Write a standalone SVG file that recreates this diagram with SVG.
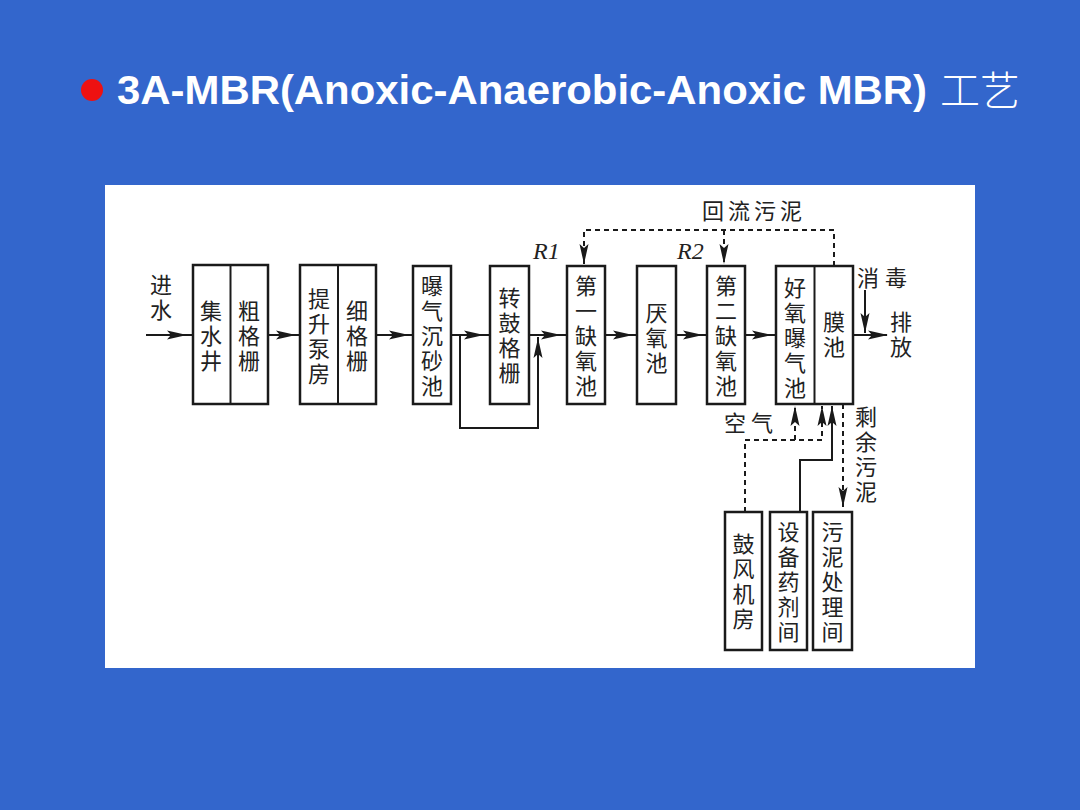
<svg xmlns="http://www.w3.org/2000/svg" width="1080" height="810" viewBox="0 0 1080 810">
<style>
.box{fill:#fff;stroke:#1a1a1a;stroke-width:2.5}
.cn{font-family:"Noto Sans CJK SC","Noto Sans CJK JP",sans-serif;font-size:22px;fill:#222;text-anchor:middle}
.v{writing-mode:vertical-rl;text-anchor:middle;letter-spacing:3px}
.ln{fill:none;stroke:#1a1a1a;stroke-width:2}
.ds{fill:none;stroke:#1a1a1a;stroke-width:2;stroke-dasharray:5 4}
.rl{font-family:"Liberation Serif",serif;font-style:italic;font-size:24px;fill:#222}
</style>
<defs>
<path id="ah" d="M0,0 L-20,-4.5 L-16,0 L-20,4.5 Z" fill="#1a1a1a"/>
</defs>
<rect width="1080" height="810" fill="#3366CC"/>
<rect x="105" y="185" width="870" height="483" fill="#fff"/>
<g id="title">
<circle cx="92" cy="90" r="11" fill="#ee1111"/>
<text x="117" y="104" font-family="Liberation Sans, Arial, sans-serif" font-weight="bold" font-size="40" fill="#fff" textLength="810" lengthAdjust="spacingAndGlyphs">3A-MBR(Anoxic-Anaerobic-Anoxic MBR)</text>
<text x="940" y="105" font-family="Noto Sans CJK SC, sans-serif" font-weight="300" font-size="40" fill="#fff">工艺</text>
</g>
<g id="connectors">
<path class="ln" d="M146,335 H193"/>
<path class="ln" d="M268,335 H300"/>
<path class="ln" d="M376,335 H413"/>
<path class="ln" d="M451,335 H490"/>
<path class="ln" d="M529,335 H567"/>
<path class="ln" d="M460,335 V428 H538 V337"/>
<path class="ln" d="M605,335 H637"/>
<path class="ln" d="M676,335 H707"/>
<path class="ln" d="M745,335 H776"/>
<path class="ln" d="M853,335 H887"/>
<path class="ln" d="M865,290 V333"/>
<path class="ds" d="M834,266 V230 H584 V266"/>
<path class="ds" d="M724,230 V266"/>
<path class="ds" d="M745,512 V440 H822 V406"/>
<path class="ds" d="M795,440 V406"/>
<path class="ln" d="M800,512 V460 H832 V406"/>
<path class="ds" d="M843,404 V507"/>
<use href="#ah" transform="translate(187,335)"/>
<use href="#ah" transform="translate(296,335)"/>
<use href="#ah" transform="translate(409,335)"/>
<use href="#ah" transform="translate(484,335)"/>
<use href="#ah" transform="translate(561,335)"/>
<use href="#ah" transform="translate(538,338) rotate(-90)"/>
<use href="#ah" transform="translate(633,335)"/>
<use href="#ah" transform="translate(703,335)"/>
<use href="#ah" transform="translate(772,335)"/>
<use href="#ah" transform="translate(888,335)"/>
<use href="#ah" transform="translate(865,333) rotate(90)"/>
<use href="#ah" transform="translate(584,264) rotate(90)"/>
<use href="#ah" transform="translate(724,264) rotate(90)"/>
<use href="#ah" transform="translate(795,406) rotate(-90)"/>
<use href="#ah" transform="translate(822,406) rotate(-90)"/>
<use href="#ah" transform="translate(832,406) rotate(-90)"/>
<use href="#ah" transform="translate(843,507) rotate(90)"/>
</g>
<g id="labels">
<text class="cn v" x="161" y="299">进水</text>
<text class="cn" x="754" y="219" letter-spacing="4">回流污泥</text>
<text class="rl" x="533" y="259">R1</text>
<text class="rl" x="677" y="259">R2</text>
<text class="cn" x="885" y="286" letter-spacing="6">消毒</text>
<text class="cn v" x="901" y="336">排放</text>
<text class="cn" x="751" y="431" letter-spacing="5">空气</text>
<text class="cn v" x="866" y="456">剩余污泥</text>
</g>
<g id="n-jishuijing">
<rect class="box" x="193" y="265" width="75" height="139"/>
<path class="ln" d="M230.5,265 V404"/>
<text class="cn v" x="211" y="337">集水井</text>
<text class="cn v" x="249" y="337">粗格栅</text>
</g>
<g id="n-tisheng">
<rect class="box" x="300" y="265" width="76" height="139"/>
<path class="ln" d="M338,265 V404"/>
<text class="cn v" x="319" y="338">提升泵房</text>
<text class="cn v" x="357" y="337">细格栅</text>
</g>
<g id="n-chensha">
<rect class="box" x="413" y="266" width="38" height="138"/>
<text class="cn v" x="432" y="337">曝气沉砂池</text>
</g>
<g id="n-zhuangu">
<rect class="box" x="490" y="266" width="39" height="138"/>
<text class="cn v" x="509.5" y="337">转鼓格栅</text>
</g>
<g id="n-queyang1">
<rect class="box" x="567" y="266" width="38" height="138"/>
<text class="cn v" x="586" y="337">第一缺氧池</text>
</g>
<g id="n-yanyang">
<rect class="box" x="637" y="266" width="39" height="138"/>
<text class="cn v" x="656.5" y="339">厌氧池</text>
</g>
<g id="n-queyang2">
<rect class="box" x="707" y="266" width="38" height="138"/>
<text class="cn v" x="726" y="337">第二缺氧池</text>
</g>
<g id="n-haoyang">
<rect class="box" x="776" y="266" width="77" height="138"/>
<path class="ln" d="M814.5,266 V404"/>
<text class="cn v" x="795" y="339">好氧曝气池</text>
<text class="cn v" x="834" y="336">膜池</text>
</g>
<g id="n-gufeng">
<rect class="box" x="725" y="512" width="37" height="138"/>
<text class="cn v" x="743.5" y="583">鼓风机房</text>
</g>
<g id="n-yaoji">
<rect class="box" x="770" y="512" width="37" height="138"/>
<text class="cn v" x="788.5" y="583">设备药剂间</text>
</g>
<g id="n-wuni">
<rect class="box" x="813" y="512" width="39" height="138"/>
<text class="cn v" x="832.5" y="583">污泥处理间</text>
</g>
</svg>
